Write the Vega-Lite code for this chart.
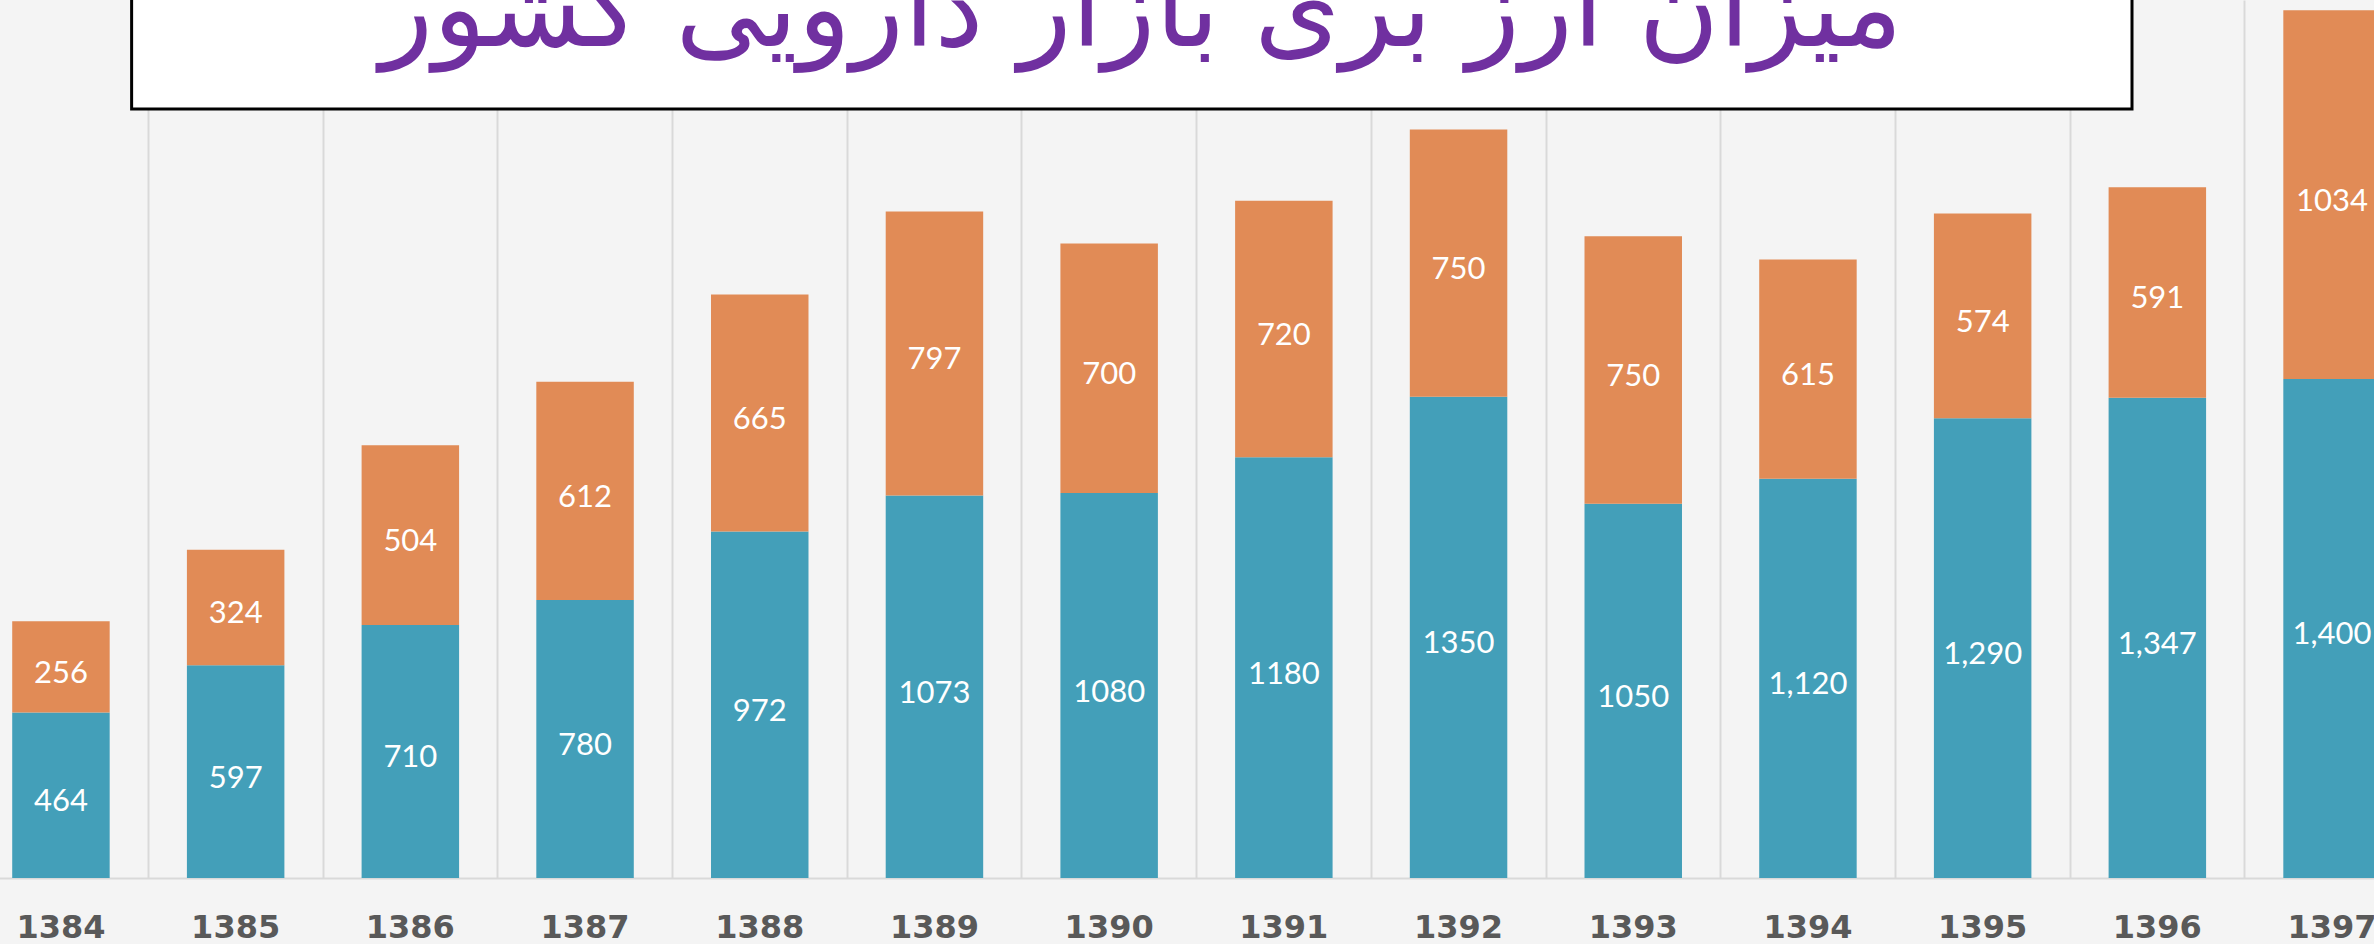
{
  "$schema": "https://vega.github.io/schema/vega-lite/v6.json",
  "width": 2374,
  "height": 878,
  "autosize": {"type": "none"},
  "padding": {"left": 0, "top": 0, "right": 0, "bottom": 66},
  "background": "#f4f4f4",
  "config": {"view": {"stroke": null}},
  "datasets": {
    "bars": [
      {"year": "1384", "part": "a", "value": 464, "label": "464"},
      {"year": "1384", "part": "b", "value": 256, "label": "256"},
      {"year": "1385", "part": "a", "value": 597, "label": "597"},
      {"year": "1385", "part": "b", "value": 324, "label": "324"},
      {"year": "1386", "part": "a", "value": 710, "label": "710"},
      {"year": "1386", "part": "b", "value": 504, "label": "504"},
      {"year": "1387", "part": "a", "value": 780, "label": "780"},
      {"year": "1387", "part": "b", "value": 612, "label": "612"},
      {"year": "1388", "part": "a", "value": 972, "label": "972"},
      {"year": "1388", "part": "b", "value": 665, "label": "665"},
      {"year": "1389", "part": "a", "value": 1073, "label": "1073"},
      {"year": "1389", "part": "b", "value": 797, "label": "797"},
      {"year": "1390", "part": "a", "value": 1080, "label": "1080"},
      {"year": "1390", "part": "b", "value": 700, "label": "700"},
      {"year": "1391", "part": "a", "value": 1180, "label": "1180"},
      {"year": "1391", "part": "b", "value": 720, "label": "720"},
      {"year": "1392", "part": "a", "value": 1350, "label": "1350"},
      {"year": "1392", "part": "b", "value": 750, "label": "750"},
      {"year": "1393", "part": "a", "value": 1050, "label": "1050"},
      {"year": "1393", "part": "b", "value": 750, "label": "750"},
      {"year": "1394", "part": "a", "value": 1120, "label": "1,120"},
      {"year": "1394", "part": "b", "value": 615, "label": "615"},
      {"year": "1395", "part": "a", "value": 1290, "label": "1,290"},
      {"year": "1395", "part": "b", "value": 574, "label": "574"},
      {"year": "1396", "part": "a", "value": 1347, "label": "1,347"},
      {"year": "1396", "part": "b", "value": 591, "label": "591"},
      {"year": "1397", "part": "a", "value": 1400, "label": "1,400"},
      {"year": "1397", "part": "b", "value": 1034, "label": "1034"}
    ],
    "heading": [{"t": "میزان ارز بری بازار دارویی کشور"}]
  },
  "layer": [
    {
      "data": {"name": "bars"},
      "mark": {"type": "bar"},
      "encoding": {
        "x": {
          "field": "year",
          "type": "ordinal",
          "scale": {"range": [-26.4, 2419.4], "paddingInner": 0.442, "paddingOuter": 0.221},
          "axis": {
            "title": null,
            "labelAngle": 0,
            "grid": true,
            "bandPosition": -0.3947,
            "labelOffset": 0,
            "gridColor": "#d9d9d9",
            "gridWidth": 2,
            "domainColor": "#d9d9d9",
            "domainWidth": 2,
            "ticks": false,
            "labelFont": "DejaVu Sans",
            "labelFontWeight": "bold",
            "labelFontSize": 32,
            "labelColor": "#595959",
            "labelPadding": 34
          }
        },
        "y": {
          "field": "value",
          "type": "quantitative",
          "stack": "zero",
          "scale": {"domain": [0, 2463], "nice": false},
          "axis": null
        },
        "color": {
          "field": "part",
          "type": "nominal",
          "scale": {"domain": ["a", "b"], "range": ["#439fb9", "#e18b56"]},
          "legend": null
        },
        "order": {"field": "part", "sort": "ascending"}
      }
    },
    {
      "data": {"name": "bars"},
      "mark": {"type": "text", "color": "white", "font": "Lato", "fontSize": 31, "baseline": "middle", "align": "center", "dy": 7},
      "encoding": {
        "x": {"field": "year", "type": "ordinal"},
        "y": {"field": "value", "type": "quantitative", "stack": "zero", "bandPosition": 0.5},
        "detail": {"field": "part"},
        "order": {"field": "part", "sort": "ascending"},
        "text": {"field": "label"}
      }
    },
    {
      "data": {"name": "heading"},
      "mark": {"type": "rect", "fill": "white", "stroke": "black", "strokeWidth": 3},
      "encoding": {
        "x": {"datum": "1384", "type": "ordinal", "bandPosition": 1.225},
        "x2": {"datum": "1396", "bandPosition": 0.24},
        "y": {"datum": 2157, "type": "quantitative"},
        "y2": {"datum": 2700}
      }
    },
    {
      "data": {"name": "heading"},
      "mark": {"type": "text", "color": "#7030a0", "font": "DejaVu Sans", "fontSize": 110, "align": "center", "baseline": "alphabetic"},
      "encoding": {
        "x": {"datum": "1390", "type": "ordinal", "bandPosition": 0.83},
        "y": {"datum": 2335, "type": "quantitative"},
        "text": {"field": "t"}
      }
    }
  ]
}
